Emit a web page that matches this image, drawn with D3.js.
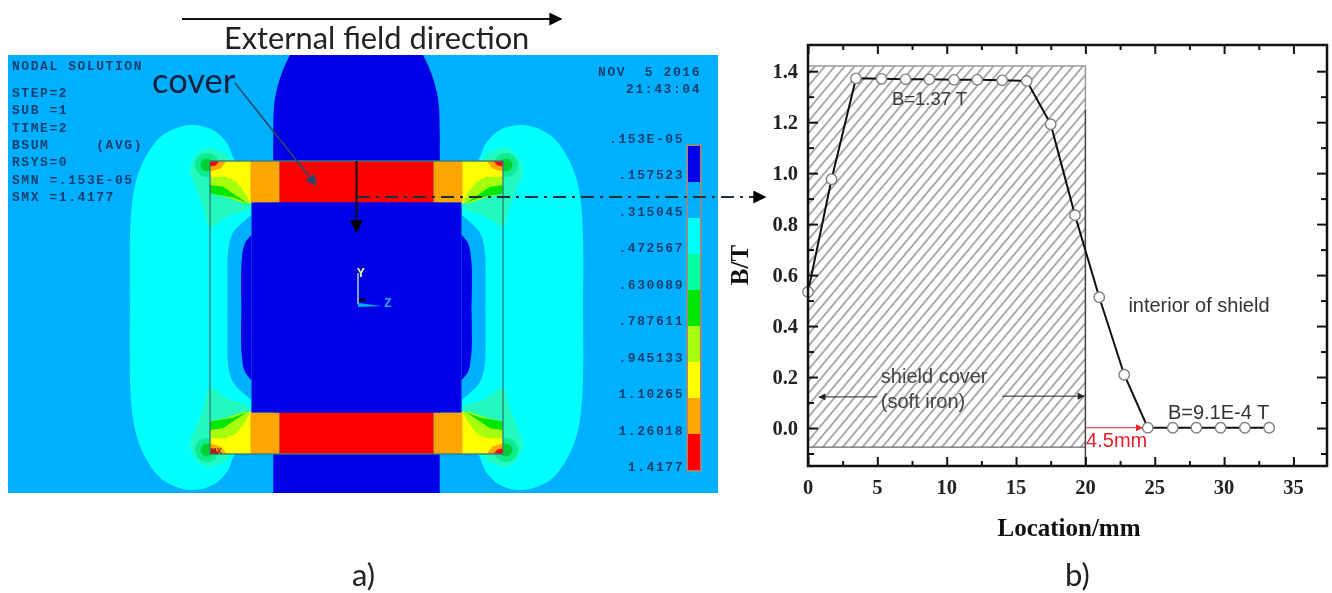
<!DOCTYPE html>
<html>
<head>
<meta charset="utf-8">
<script src="https://d3js.org/d3.v7.min.js"></script>
<style>
html, body { margin: 0; padding: 0; background: #fff; }
svg { display: block; filter: blur(0.45px); }
text { white-space: pre; }
</style>
</head>
<body>
<svg id="fig" width="1332" height="593"></svg>
<script>
// ---- panel b data
var locationMm = [0, 1.7, 3.46, 5.3, 7.04, 8.75, 10.53, 12.2, 14.0, 15.77, 17.5, 19.25, 21.0, 22.8, 24.5, 26.3, 28.0, 29.75, 31.5, 33.25];
var fieldT = [0.534, 0.976, 1.372, 1.37, 1.368, 1.368, 1.366, 1.366, 1.364, 1.362, 1.192, 0.835, 0.513, 0.209, 0.001, 0.001, 0.001, 0.001, 0.001, 0.001];
var xMajorTicks = [0, 5, 10, 15, 20, 25, 30, 35];
var xMinorTicks = [2.5, 7.5, 12.5, 17.5, 22.5, 27.5, 32.5];
var yMajorTicks = [0, 0.2, 0.4, 0.6, 0.8, 1.0, 1.2, 1.4];
var yMinorTicks = [-0.1, 0.1, 0.3, 0.5, 0.7, 0.9, 1.1, 1.3];

// ---- panel a data: legend
var legendLabels = [".153E-05", ".157523", ".315045", ".472567", ".630089", ".787611", ".945133", "1.10265", "1.26018", "1.4177"];
var legendColors = ["#0000e6", "#00b0ff", "#00ffff", "#00ffa0", "#00e600", "#a8ff10", "#ffff00", "#ffa500", "#ff0000"];
var infoLines = ["STEP=2", "SUB =1", "TIME=2", "BSUM     (AVG)", "RSYS=0", "SMN =.153E-05", "SMX =1.4177"];

// ---- panel a data: contour outlines, quarter model, [distance from centre, height above centre]
var columnEdge = [[66.5, 252.5], [73.5, 237.5], [79.8, 217.5], [82.5, 200.5], [83.2, 174.5], [83.2, 100], [83.2, -100], [83.2, -185.5], [83.2, -300]];
var lobeEdge = [[105, 146.5], [120.5, 146.5], [129.5, 164.5], [143.5, 177.5], [166.5, 182.5], [193, 173], [209.5, 153], [219.5, 130], [224.5, 104], [226.5, 70], [226.5, 0]];
var innerBandEdge = [[105, 92.5], [123.5, 74.5], [128.5, 54.5], [129, 27.5], [129, 0]];
var bulgeEdge = [[105, 72.5], [111.5, 64.5], [115, 44.5], [115, 0]];
var teardrop = [[105, 146.5], [123, 146.5], [133, 155], [150, 159], [160, 152], [166.5, 137.5], [160, 118], [153, 100], [146.5, 80.5], [130, 90.5], [106, 100], [105, 105]];
var yellowPatch = [[105, 146.5], [146.5, 146.5], [146.5, 120], [106, 104], [105, 104]];
var limePatch = [[146.5, 130.8], [129.8, 130.8], [119.8, 125.8], [111.5, 114.5], [106.5, 105.8], [112, 104], [129, 110], [146.5, 114]];
var greenPatch = [[146.5, 122.5], [133.5, 120.8], [123.5, 114], [111.5, 106], [108, 104], [123.5, 110], [146.5, 114]];
var cornerOrange = [[146.5, 146.5], [130, 146.5], [136, 139], [146.5, 136]];
var cornerRed = [[146.5, 146.5], [137, 146.5], [141, 142], [146.5, 141]];
var cornerRings = [[149.5, 142.5, 12, "#10ec90"], [149.5, 142.5, 6.5, "#00d030"]];
var coverOuter = 146.5, coverInner = 105, coverRed = 77;

var svg = d3.select("#fig");
var defs = svg.append("defs");

function arrowHead(id, color, w, h) {
  defs.append("marker")
    .attr("id", id)
    .attr("viewBox", "0 0 10 10")
    .attr("refX", 9).attr("refY", 5)
    .attr("markerUnits", "userSpaceOnUse")
    .attr("markerWidth", w).attr("markerHeight", h)
    .attr("orient", "auto")
    .append("path").attr("d", "M0,0L10,5L0,10z").attr("fill", color);
}
arrowHead("headBlack", "#000", 13, 13);
arrowHead("headThin", "#222", 10, 7);
arrowHead("headCover", "#28486e", 14, 11);
arrowHead("headRed", "#e8202a", 11, 7);

var hatch = defs.append("pattern")
  .attr("id", "hatch")
  .attr("patternUnits", "userSpaceOnUse")
  .attr("width", 7.6).attr("height", 7.6)
  .attr("patternTransform", "rotate(-50)");
hatch.append("line")
  .attr("x1", 0).attr("x2", 7.6).attr("y1", 3.8).attr("y2", 3.8)
  .attr("stroke", "#8a8a8a").attr("stroke-width", 1.4);

defs.append("filter").attr("id", "soft")
  .append("feGaussianBlur").attr("stdDeviation", 0.7);

// ================= panel a =================
var panelA = { left: 8, right: 718, top: 55, bottom: 493 };
var u = d3.scaleLinear().domain([-348.5, 361.5]).range([panelA.left, panelA.right]);
var v = d3.scaleLinear().domain([252.5, -185.5]).range([panelA.top, panelA.bottom]);

defs.append("clipPath").attr("id", "panelClip").append("rect")
  .attr("x", panelA.left).attr("y", panelA.top)
  .attr("width", panelA.right - panelA.left).attr("height", panelA.bottom - panelA.top);

var a = svg.append("g").attr("clip-path", "url(#panelClip)").append("g").attr("filter", "url(#soft)");
var toPath = d3.line().x(function(d) { return u(d[0]); }).y(function(d) { return v(d[1]); });

function mirror(pts, sx, sy) {
  return pts.map(function(p) { return [p[0] * sx, p[1] * sy]; });
}
// outline reflected about the horizontal centre line
function bothHalves(pts) {
  return pts.concat(mirror(pts, 1, -1).reverse());
}
function fourCorners(pts, color, shape) {
  [[1, 1], [-1, 1], [1, -1], [-1, -1]].forEach(function(s) {
    a.append("path").attr("d", (shape || toPath)(mirror(pts, s[0], s[1])) + "Z").attr("fill", color);
  });
}
function box(u0, u1, v0, v1, color) {
  a.append("rect")
    .attr("x", u(u0)).attr("width", u(u1) - u(u0))
    .attr("y", v(v0)).attr("height", v(v1) - v(v0))
    .attr("fill", color);
}

var curvy = d3.line().curve(d3.curveCatmullRom.alpha(0.5)).x(toPath.x()).y(toPath.y());

box(-348.5, 361.5, 252.5, -185.5, legendColors[1]);
a.append("path")
  .attr("d", curvy(columnEdge.concat(mirror(columnEdge, -1, 1).reverse())) + "Z")
  .attr("fill", legendColors[0]);

[1, -1].forEach(function(s) {
  a.append("path").attr("d", curvy(mirror(bothHalves(lobeEdge), s, 1)) + "Z").attr("fill", legendColors[2]);
  a.append("path").attr("d", curvy(mirror(bothHalves(innerBandEdge), s, 1)) + "Z").attr("fill", legendColors[1]);
  a.append("path").attr("d", curvy(mirror(bothHalves(bulgeEdge), s, 1)) + "Z").attr("fill", legendColors[0]);
});

fourCorners(teardrop, "#20f8c0", curvy);
cornerRings.forEach(function(r) {
  [[1, 1], [-1, 1], [1, -1], [-1, -1]].forEach(function(s) {
    a.append("circle")
      .attr("cx", u(r[0] * s[0])).attr("cy", v(r[1] * s[1]))
      .attr("r", u(r[2]) - u(0)).attr("fill", r[3]);
  });
});
fourCorners(yellowPatch, legendColors[6]);
fourCorners(limePatch, legendColors[5]);
fourCorners(greenPatch, legendColors[4]);
fourCorners(cornerOrange, legendColors[7]);
fourCorners(cornerRed, legendColors[8]);

// cover bands and the shielded interior
[1, -1].forEach(function(s) {
  box(-coverRed, coverRed, s > 0 ? coverOuter : -coverInner, s > 0 ? coverInner : -coverOuter, legendColors[8]);
  box(coverRed, coverInner + 1, s > 0 ? coverOuter : -coverInner, s > 0 ? coverInner : -coverOuter, legendColors[7]);
  box(-coverInner - 1, -coverRed, s > 0 ? coverOuter : -coverInner, s > 0 ? coverInner : -coverOuter, legendColors[7]);
});
box(-coverInner, coverInner, coverInner, -coverInner, "#0000e6");

a.append("rect")
  .attr("x", u(-coverOuter)).attr("width", u(coverOuter) - u(-coverOuter))
  .attr("y", v(coverOuter)).attr("height", v(-coverOuter) - v(coverOuter))
  .attr("fill", "none").attr("stroke", "#3a7f78").attr("stroke-width", 1.4);

// triad
svg.append("path").attr("d", "M358,273V304").attr("stroke", "#7f9fd0").attr("stroke-width", 2).attr("fill", "none");
svg.append("path").attr("d", "M358,303L382,306L358,307Z").attr("fill", "#00b0ff");
svg.append("rect").attr("x", 359).attr("y", 298).attr("width", 6).attr("height", 4).attr("fill", "#000050");
svg.append("text").attr("x", 357).attr("y", 277).attr("font-family", "'Liberation Mono', monospace").attr("font-weight", "bold")
  .attr("font-size", 13).attr("fill", "#d8f080").text("Y");
svg.append("text").attr("x", 384).attr("y", 307).attr("font-family", "'Liberation Mono', monospace").attr("font-weight", "bold")
  .attr("font-size", 13).attr("fill", "#30a0ff").text("Z");
svg.append("text").attr("x", 211).attr("y", 454).attr("font-family", "Liberation Mono").attr("font-weight", "bold")
  .attr("font-size", 9).attr("fill", "#8a2a20").text("MX");

var ansysStyle = function(sel) {
  sel.attr("font-family", "'Liberation Mono', monospace")
    .attr("font-weight", "bold")
    .attr("font-size", 13)
    .attr("letter-spacing", 1.56)
    .attr("fill", "#123e6e");
};

// info block, top left
var infoY = d3.scaleLinear().domain([0, 1]).range([97, 114.3]);
svg.append("text").attr("x", 12).attr("y", 69.5).call(ansysStyle).text("NODAL SOLUTION");
svg.append("g").selectAll("text").data(infoLines).enter().append("text")
  .attr("x", 12)
  .attr("y", function(d, i) { return infoY(i); })
  .call(ansysStyle)
  .text(function(d) { return d; });

svg.append("text").attr("x", 701).attr("y", 76).attr("text-anchor", "end").call(ansysStyle).text("NOV  5 2016");
svg.append("text").attr("x", 701).attr("y", 93).attr("text-anchor", "end").call(ansysStyle).text("21:43:04");

// legend bar
var legendY = d3.scaleBand().domain(d3.range(legendColors.length)).range([146, 470]);
var legendG = svg.append("g");
legendG.selectAll("rect").data(legendColors).enter().append("rect")
  .attr("x", 688).attr("width", 12)
  .attr("y", function(d, i) { return legendY(i); })
  .attr("height", legendY.bandwidth() + 0.5)
  .attr("fill", function(d) { return d; });
legendG.append("rect").attr("x", 687).attr("y", 145).attr("width", 14).attr("height", 326)
  .attr("fill", "none").attr("stroke", "#8c8c8c").attr("stroke-width", 2);
var legendText = d3.scaleLinear().domain([0, 9]).range([143, 471]);
legendG.selectAll("text").data(legendLabels).enter().append("text")
  .attr("x", 684)
  .attr("y", function(d, i) { return legendText(i); })
  .attr("text-anchor", "end")
  .call(ansysStyle)
  .text(function(d) { return d; });

// annotations over the model
svg.append("line").attr("x1", 182).attr("y1", 19).attr("x2", 561).attr("y2", 19)
  .attr("stroke", "#111").attr("stroke-width", 2).attr("marker-end", "url(#headBlack)");
svg.append("text").attr("x", 224).attr("y", 49).attr("font-family", "Lato").attr("font-size", 30.8)
  .attr("fill", "#222").text("External field direction");
svg.append("text").attr("x", 152).attr("y", 93).attr("font-family", "Lato").attr("font-size", 34.5)
  .attr("fill", "#14203c").text("cover");
svg.append("line").attr("x1", 235).attr("y1", 83).attr("x2", 316).attr("y2", 185)
  .attr("stroke", "#28486e").attr("stroke-width", 1.6).attr("marker-end", "url(#headCover)");
svg.append("line").attr("x1", 356.5).attr("y1", 161).attr("x2", 356.5).attr("y2", 232)
  .attr("stroke", "#111").attr("stroke-width", 2).attr("marker-end", "url(#headBlack)");
svg.append("line").attr("x1", 357).attr("y1", 197).attr("x2", 765).attr("y2", 197)
  .attr("stroke", "#20303a").attr("stroke-width", 2).attr("stroke-dasharray", "13,6,3,6")
  .attr("marker-end", "url(#headBlack)");
svg.append("text").attr("x", 352).attr("y", 586).attr("font-family", "Lato").attr("font-size", 31)
  .attr("fill", "#222").text("a)");

// ================= panel b =================
var margin = { top: 45, right: 5, bottom: 127, left: 808 };
var width = 1332 - margin.left - margin.right;
var height = 593 - margin.top - margin.bottom;
var x = d3.scaleLinear().domain([0, 37.42]).range([0, width]);
var y = d3.scaleLinear().domain([-0.1491, 1.5028]).range([height, 0]);

var g = svg.append("g").attr("transform", "translate(" + margin.left + "," + margin.top + ")");

// shield cover region, 0 to 20 mm
g.append("rect")
  .attr("x", x(0)).attr("width", x(20) - x(0))
  .attr("y", y(1.42)).attr("height", y(-0.075) - y(1.42))
  .attr("fill", "url(#hatch)");
g.append("path")
  .attr("d", d3.line()([[x(0), y(1.42)], [x(20), y(1.42)], [x(20), y(1.25)]]))
  .attr("fill", "none").attr("stroke", "#9a9a9a").attr("stroke-width", 1.5);
g.append("line").attr("x1", x(0)).attr("x2", x(20)).attr("y1", y(-0.075)).attr("y2", y(-0.075))
  .attr("stroke", "#666").attr("stroke-width", 1.2);
g.append("line").attr("x1", x(20)).attr("x2", x(20)).attr("y1", y(1.25)).attr("y2", y(-0.1491))
  .attr("stroke", "#444").attr("stroke-width", 1.5);

// curve
var points = locationMm.map(function(d, i) { return { loc: d, b: fieldT[i] }; });
var line = d3.line()
  .x(function(d) { return x(d.loc); })
  .y(function(d) { return y(d.b); });
g.append("path").datum(points)
  .attr("fill", "none").attr("stroke", "#111").attr("stroke-width", 2).attr("d", line);
g.selectAll("circle").data(points).enter().append("circle")
  .attr("cx", function(d) { return x(d.loc); })
  .attr("cy", function(d) { return y(d.b); })
  .attr("r", 5.2)
  .attr("fill", "#fff").attr("stroke", "#808080").attr("stroke-width", 1.4);

// mirrored axes with inward ticks
function tickStyle(sel, sw) {
  sel.select(".domain").remove();
  sel.selectAll("line").attr("stroke", "#111").attr("stroke-width", sw);
  sel.selectAll("text").remove();
}
g.append("g").attr("transform", "translate(0," + height + ")").call(d3.axisBottom(x).tickValues(xMajorTicks).tickSize(-9)).call(tickStyle, 2);
g.append("g").attr("transform", "translate(0," + height + ")").call(d3.axisBottom(x).tickValues(xMinorTicks).tickSize(-5)).call(tickStyle, 2);
g.append("g").call(d3.axisTop(x).tickValues(xMajorTicks).tickSize(-9)).call(tickStyle, 2);
g.append("g").call(d3.axisTop(x).tickValues(xMinorTicks).tickSize(-5)).call(tickStyle, 2);
g.append("g").call(d3.axisLeft(y).tickValues(yMajorTicks).tickSize(-10)).call(tickStyle, 2);
g.append("g").call(d3.axisLeft(y).tickValues(yMinorTicks).tickSize(-6)).call(tickStyle, 2);
g.append("g").attr("transform", "translate(" + width + ",0)").call(d3.axisRight(y).tickValues(yMajorTicks).tickSize(-10)).call(tickStyle, 2);
g.append("g").attr("transform", "translate(" + width + ",0)").call(d3.axisRight(y).tickValues(yMinorTicks).tickSize(-6)).call(tickStyle, 2);

g.append("rect").attr("width", width).attr("height", height)
  .attr("fill", "none").attr("stroke", "#111").attr("stroke-width", 2.5);

// tick labels
var labelFont = "'Liberation Serif', serif";
g.selectAll("text.xl").data(xMajorTicks).enter().append("text")
  .attr("x", function(d) { return x(d); }).attr("y", height + 28)
  .attr("text-anchor", "middle").attr("font-family", labelFont).attr("font-weight", "bold")
  .attr("font-size", 20.5).attr("fill", "#222").text(function(d) { return d; });
g.selectAll("text.yl").data(yMajorTicks).enter().append("text")
  .attr("x", -10).attr("y", function(d) { return y(d) + 7; })
  .attr("text-anchor", "end").attr("font-family", labelFont).attr("font-weight", "bold")
  .attr("font-size", 20.5).attr("fill", "#222").text(function(d) { return d3.format(".1f")(d); });

svg.append("text").attr("transform", "translate(748,265) rotate(-90)")
  .attr("text-anchor", "middle").attr("font-family", labelFont).attr("font-weight", "bold")
  .attr("font-size", 25).attr("fill", "#111").text("B/T");
svg.append("text").attr("x", 1069).attr("y", 536)
  .attr("text-anchor", "middle").attr("font-family", labelFont).attr("font-weight", "bold")
  .attr("font-size", 25).attr("fill", "#111").text("Location/mm");
svg.append("text").attr("x", 1065).attr("y", 586).attr("font-family", "Lato").attr("font-size", 31)
  .attr("fill", "#222").text("b)");

// labels inside the plot
var sans = "'Liberation Sans', Arial, sans-serif";
function note(txt, lx, ly, size, color) {
  g.append("text").attr("x", x(lx)).attr("y", y(ly))
    .attr("font-family", sans).attr("font-size", size).attr("fill", color).text(txt);
}
note("B=1.37 T", 6.05, 1.267, 18.5, "#3a3a3a");
note("interior of shield", 23.1, 0.457, 20, "#333");
note("shield cover", 5.25, 0.176, 20, "#444");
note("(soft iron)", 5.25, 0.08, 20, "#444");
note("B=9.1E-4 T", 25.95, 0.037, 20, "#333");
note("4.5mm", 20.05, -0.075, 20, "#e8202a");

g.append("line").attr("x1", x(14)).attr("x2", x(19.9)).attr("y1", y(0.125)).attr("y2", y(0.125))
  .attr("stroke", "#222").attr("stroke-width", 1).attr("marker-end", "url(#headThin)");
g.append("line").attr("x1", x(5)).attr("x2", x(0.8)).attr("y1", y(0.122)).attr("y2", y(0.122))
  .attr("stroke", "#222").attr("stroke-width", 1).attr("marker-end", "url(#headThin)");
g.append("line").attr("x1", x(20)).attr("x2", x(24.1)).attr("y1", y(0.001)).attr("y2", y(0.001))
  .attr("stroke", "#e8202a").attr("stroke-width", 1).attr("marker-end", "url(#headRed)");
</script>
</body>
</html>
